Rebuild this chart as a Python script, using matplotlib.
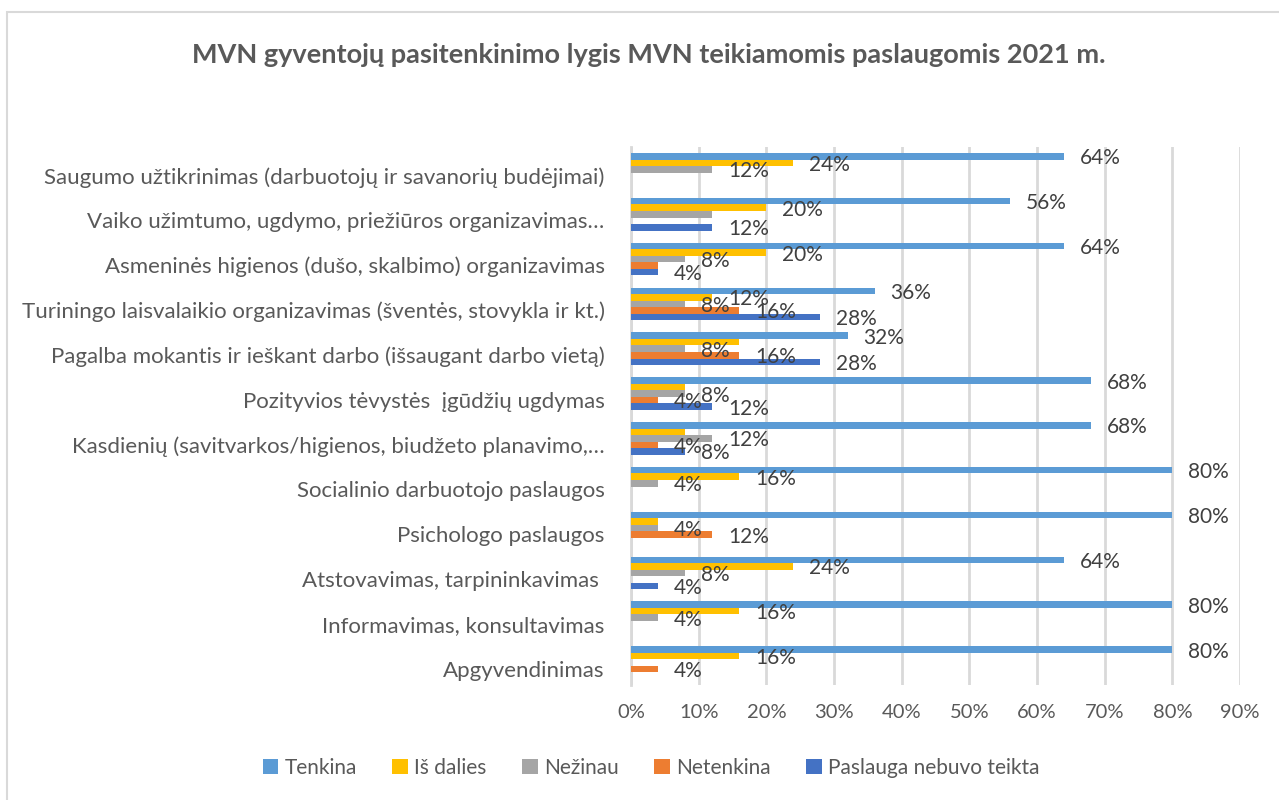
import numpy as np
import matplotlib
matplotlib.use("Agg")
import matplotlib.pyplot as plt
import matplotlib.transforms as mtransforms
from matplotlib.patches import Rectangle

plt.rcParams['font.family'] = ['Lato', 'DejaVu Sans']

# categories, top to bottom
categories = [
    "Saugumo užtikrinimas (darbuotojų ir savanorių budėjimai)",
    "Vaiko užimtumo, ugdymo, priežiūros organizavimas…",
    "Asmeninės higienos (dušo, skalbimo) organizavimas",
    "Turiningo laisvalaikio organizavimas (šventės, stovykla ir kt.)",
    "Pagalba mokantis ir ieškant darbo (išsaugant darbo vietą)",
    "Pozityvios tėvystės  įgūdžių ugdymas",
    "Kasdienių (savitvarkos/higienos, biudžeto planavimo,…",
    "Socialinio darbuotojo paslaugos",
    "Psichologo paslaugos",
    "Atstovavimas, tarpininkavimas ",
    "Informavimas, konsultavimas",
    "Apgyvendinimas",
]

series_names = ["Tenkina", "Iš dalies", "Nežinau", "Netenkina", "Paslauga nebuvo teikta"]
colors = ["#5B9BD5", "#FFC000", "#A5A5A5", "#ED7D31", "#4472C4"]

tenkina   = [64, 56, 64, 36, 32, 68, 68, 80, 80, 64, 80, 80]
is_dalies = [24, 20, 20, 12, 16,  8,  8, 16,  4, 24, 16, 16]
nezinau   = [12, 12,  8,  8,  8,  8, 12,  4,  4,  8,  4,  0]
netenkina = [ 0,  0,  4, 16, 16,  4,  4,  0, 12,  0,  0,  4]
neteikta  = [ 0, 12,  4, 28, 28, 12,  8,  0,  0,  4,  0,  0]

values = [tenkina, is_dalies, nezinau, netenkina, neteikta]

fig = plt.figure(figsize=(12.79, 8.0), dpi=100)
ax = fig.add_axes([631/1279, 1-685/800, (1240-631)/1279, (685-147)/800])

# chart border
fig.patches.append(Rectangle((7/1279, -0.01), 1.1, 1-12/800 + 0.01, transform=fig.transFigure,
                             fill=False, edgecolor="#D9D9D9", linewidth=1.5))

y = np.arange(len(categories))
h = 0.145
text_col = "#595959"
lab_col = "#404040"

for j, (name, vals, c) in enumerate(zip(series_names, values, colors)):
    pos = y + (j - 2) * h
    ax.barh(pos, vals, height=h, color=c, label=name, zorder=3)
    for i, v in enumerate(vals):
        if v == 0:
            continue
        # excel hides overlapping labels with the same value
        if any(values[k][i] == v for k in range(j + 1, 5)):
            continue
        ax.annotate(f"{v}%", (v, pos[i]), xytext=(16, -2), textcoords="offset pixels",
                    ha="left", va="center", fontsize=15, color=lab_col, zorder=5)

ax.set_xlim(0, 90)
ax.set_ylim(len(categories) - 0.5, -0.5)
ax.set_xticks(np.arange(0, 91, 10))
ax.set_xticklabels([f"{t}%" for t in range(0, 91, 10)])
ax.set_yticks(y)
ax.set_yticklabels(categories)
ax.tick_params(axis="both", length=0, colors=text_col)
ax.tick_params(axis="y", pad=19, labelsize=16)
ax.tick_params(axis="x", pad=14, labelsize=14.5)
for lab in ax.get_yticklabels():
    lab.set_transform(lab.get_transform() + mtransforms.ScaledTranslation(0, -6/100, fig.dpi_scale_trans))

ax.grid(axis="x", color="#D9D9D9", linewidth=2, zorder=0)
for s in ["top", "right", "bottom"]:
    ax.spines[s].set_visible(False)
ax.spines["left"].set_color("#D9D9D9")
ax.spines["left"].set_linewidth(2)

fig.suptitle("MVN gyventojų pasitenkinimo lygis MVN teikiamomis paslaugomis 2021 m.",
             x=649/1279, y=1-55/800, va="center", fontsize=19.5, fontweight="bold", color=text_col)

fig.legend(loc="center", bbox_to_anchor=(651/1279, 1-768/800), ncol=5, frameon=False,
           fontsize=15, labelcolor=text_col, handlelength=0.75, handleheight=0.75,
           handletextpad=0.3, columnspacing=1.7)

fig.savefig("out.png", dpi=100)
